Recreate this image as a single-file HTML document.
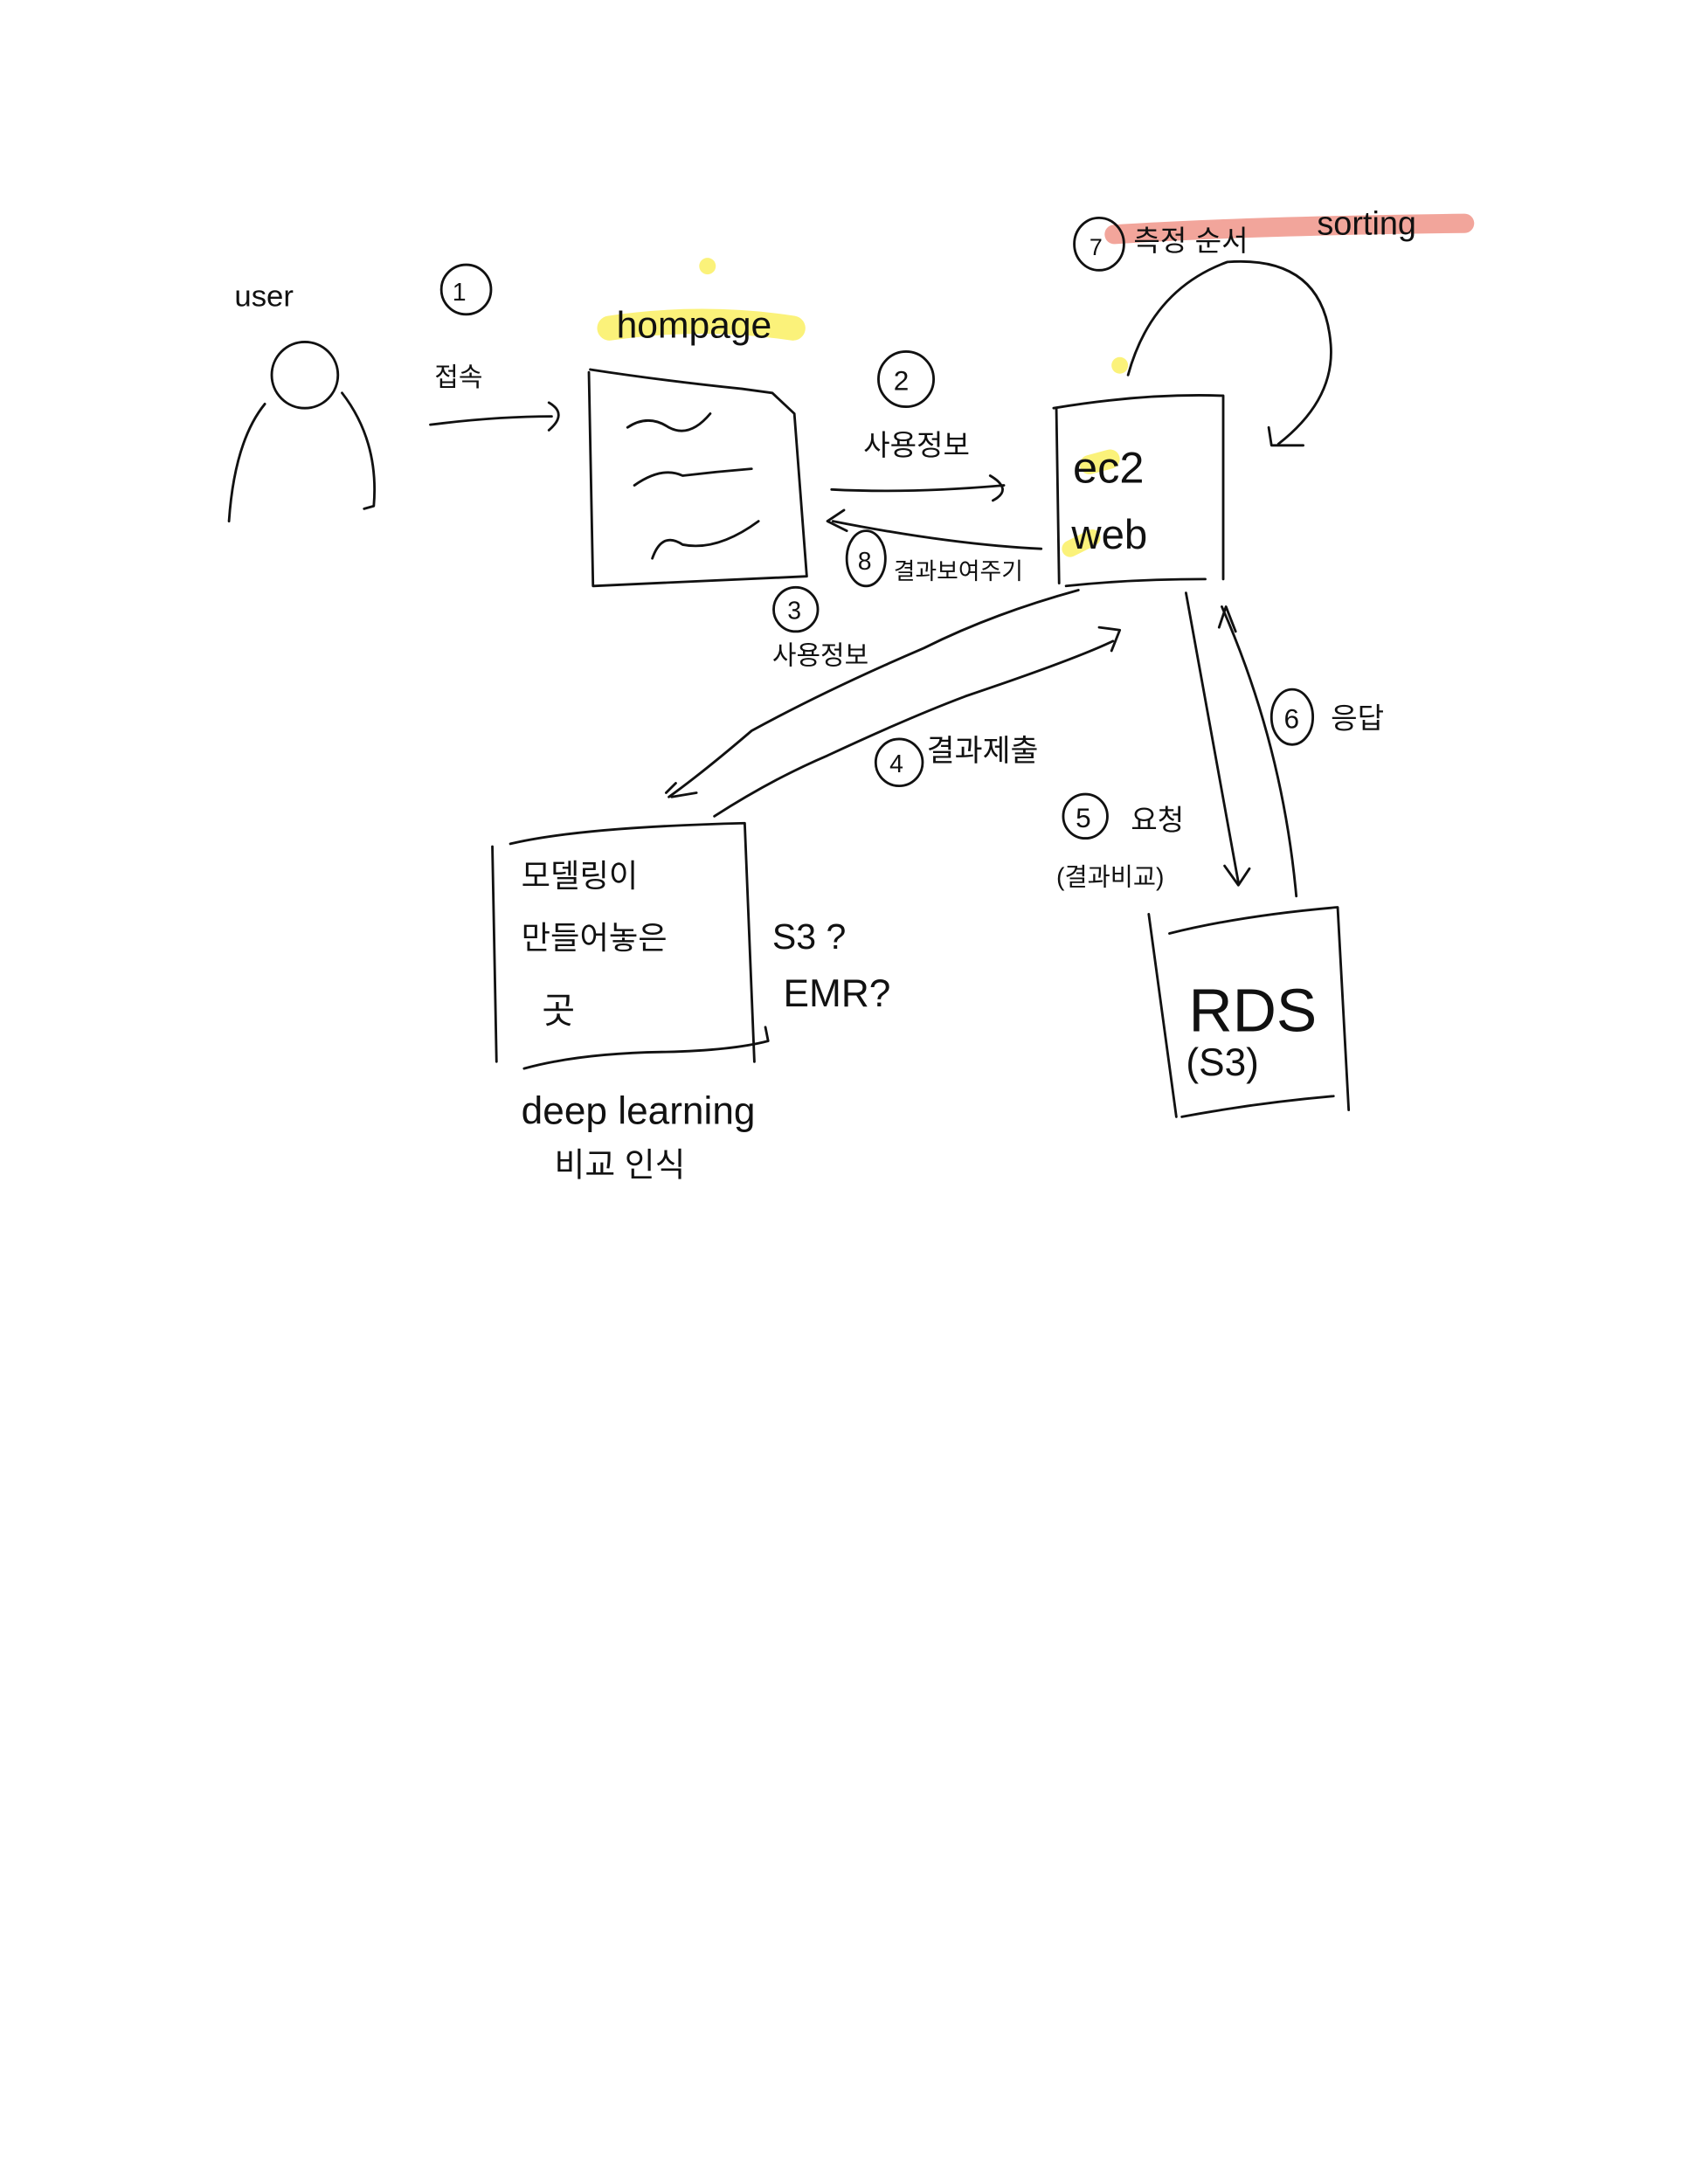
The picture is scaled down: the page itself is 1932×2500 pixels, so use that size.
<!DOCTYPE html>
<html><head><meta charset="utf-8"><style>
html,body{margin:0;padding:0;background:#fff;width:1932px;height:2500px;overflow:hidden}
svg{display:block}
text{font-family:"Liberation Sans","Noto Sans CJK KR","NanumGothic",sans-serif;fill:#111}
</style></head><body>
<svg width="1932" height="2500" viewBox="0 0 1224 1584" xmlns="http://www.w3.org/2000/svg">
<g fill="none" stroke-linecap="round" stroke-linejoin="round">
<!-- highlights -->
<path d="M808 170 Q900 164 1062 162" stroke="#f2a59b" stroke-width="14"/>
<path d="M442 238 Q510 228 575 238" stroke="#fbf27a" stroke-width="18"/>
<circle cx="513" cy="193" r="6" fill="#fbf27a" stroke="none"/>
<circle cx="812" cy="265" r="6" fill="#fbf27a" stroke="none"/>
<path d="M790 337 L805 333" stroke="#fbf27a" stroke-width="14"/>
<path d="M776 398 L792 390" stroke="#fbf27a" stroke-width="12"/>
</g>
<g fill="none" stroke="#111" stroke-width="1.8" stroke-linecap="round" stroke-linejoin="round">
<!-- user -->
<circle cx="221" cy="272" r="24"/>
<path d="M192 293 Q170 320 166 378"/>
<path d="M248 285 Q275 320 271 367 L264 369"/>
<!-- 1 -->
<circle cx="338" cy="210" r="18"/>
<path d="M312 308 Q360 302 400 302"/><path d="M398 292 Q412 300 398 312"/>
<!-- homepage box -->
<path d="M427 270 L430 425 L585 418 L576 300 L560 285 L538 282 Q480 276 428 268"/>
<path d="M455 310 Q470 300 485 310 Q500 318 515 300"/>
<path d="M460 352 Q480 338 495 345 Q520 342 545 340"/>
<path d="M473 405 Q480 385 495 395 Q520 400 550 378"/>
<!-- 2 -->
<circle cx="657" cy="275" r="20"/>
<path d="M603 355 Q660 358 728 352"/><path d="M718 345 Q735 355 720 363"/>
<!-- 8 back arrow -->
<path d="M755 398 Q690 395 604 378"/><path d="M612 370 L600 378 L614 385"/>
<ellipse cx="628" cy="405" rx="14" ry="20"/>
<!-- ec2 box -->
<path d="M764 296 Q830 285 887 287 L887 420"/>
<path d="M766 296 L768 423"/>
<path d="M773 425 Q820 420 874 420"/>
<!-- loop -->
<path d="M818 272 Q835 210 890 190 Q960 185 965 250 Q968 290 927 322"/>
<path d="M920 310 L922 323 L945 323"/>
<!-- 7 -->
<ellipse cx="797" cy="177" rx="18" ry="19"/>
<!-- 3 -->
<circle cx="577" cy="442" r="16"/>
<!-- to model -->
<path d="M782 428 Q720 445 670 470 Q600 500 545 530 Q510 560 485 578"/>
<path d="M483 575 L490 568 M487 578 L505 575"/>
<path d="M518 592 Q560 565 600 548 Q660 520 700 505 Q780 478 807 465"/>
<path d="M797 455 L812 457 L806 472"/>
<circle cx="652" cy="553" r="17"/>
<!-- model box -->
<path d="M357 614 L360 770"/>
<path d="M370 612 Q420 600 540 597 L547 770"/>
<path d="M380 775 Q420 764 480 763 Q530 762 557 755 L555 745"/>
<!-- ec2 to rds -->
<path d="M860 430 L898 640"/><path d="M888 628 L898 642 L906 630"/>
<path d="M940 650 Q930 540 886 440"/><path d="M884 455 L889 440 L896 458"/>
<ellipse cx="937" cy="520" rx="15" ry="20"/>
<circle cx="787" cy="592" r="16"/>
<!-- rds box -->
<path d="M833 663 L853 810"/>
<path d="M848 677 Q900 664 970 658 L978 805"/>
<path d="M857 810 Q910 800 967 795"/>
</g>
<g font-size="20">
<text x="170" y="222" font-size="22">user</text>
<text x="328" y="218" font-size="18">1</text>
<text x="315" y="280" font-size="19">접속</text>
<text x="447" y="245" font-size="27">hompage</text>
<text x="648" y="283" font-size="20">2</text>
<text x="626" y="330" font-size="21">사용정보</text>
<text x="622" y="413" font-size="18">8</text>
<text x="648" y="420" font-size="17">결과보여주기</text>
<text x="778" y="350" font-size="32">ec2</text>
<text x="777" y="398" font-size="30">web</text>
<text x="790" y="185" font-size="17">7</text>
<text x="822" y="182" font-size="21">측정 순서</text>
<text x="955" y="170" font-size="24">sorting</text>
<text x="571" y="449" font-size="18">3</text>
<text x="560" y="482" font-size="19">사용정보</text>
<text x="645" y="560" font-size="18">4</text>
<text x="672" y="552" font-size="22">결과제출</text>
<text x="378" y="643" font-size="23">모델링이</text>
<text x="378" y="688" font-size="23">만들어놓은</text>
<text x="393" y="742" font-size="26">곳</text>
<text x="560" y="688" font-size="26">S3 ?</text>
<text x="568" y="730" font-size="28">EMR?</text>
<text x="378" y="815" font-size="28">deep learning</text>
<text x="402" y="853" font-size="24">비교 인식</text>
<text x="931" y="528" font-size="20">6</text>
<text x="965" y="528" font-size="21">응답</text>
<text x="780" y="600" font-size="20">5</text>
<text x="820" y="602" font-size="21">요청</text>
<text x="766" y="642" font-size="18">(결과비교)</text>
<text x="862" y="748" font-size="44">RDS</text>
<text x="860" y="780" font-size="28">(S3)</text>
</g>
</svg>
</body></html>
